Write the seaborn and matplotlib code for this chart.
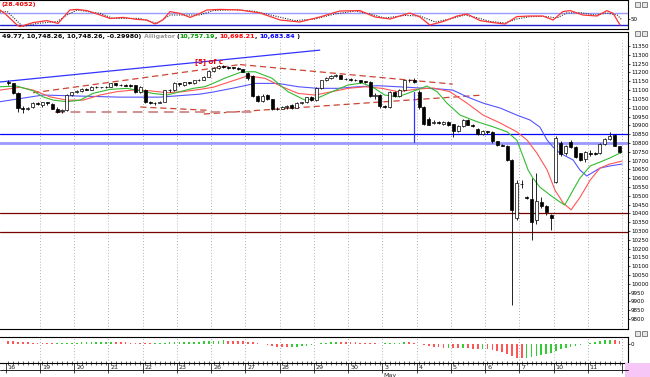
import numpy as np
import pandas as pd
import matplotlib
matplotlib.use('Agg')
import matplotlib.pyplot as plt
from matplotlib.offsetbox import TextArea, HPacker, AnchoredOffsetbox
from matplotlib.patches import Rectangle
from matplotlib.lines import Line2D
import seaborn as sns

sns.set_style("white")
plt.rcParams['font.family'] = ['DejaVu Sans']

# hourly candles, 16 Apr - 11 May (7 bars per day)
opens = [11145, 11138, 11085, 11000, 10990, 11005, 11025,
         11015, 11030, 11020, 10995, 10980, 10985, 11070,
         11090, 11095, 11105, 11102, 11118, 11115, 11116,
         11118, 11138, 11128, 11130, 11126, 11128, 11090,
         11100, 11030, 11025, 11028, 11035, 11098, 11100,
         11138, 11130, 11145, 11138, 11155, 11158, 11175,
         11210, 11228, 11235, 11230, 11228, 11226, 11218,
         11195, 11180, 11065, 11040, 11070, 11048, 10992,
         10995, 11002, 11015, 11000, 11025, 11030, 11058,
         11045, 11110, 11155, 11168, 11180, 11185, 11165,
         11162, 11158, 11156, 11148, 11145, 11065, 11070,
         11009, 11005, 11090, 11068, 11100, 11155, 11160,
         11090, 11005, 10935, 10915, 10918, 10905, 10920,
         10905, 10870, 10895, 10930, 10900, 10880, 10850,
         10868, 10860, 10810, 10790, 10785, 10705, 10375,
         10565, 10490, 10480, 10360, 10465, 10440, 10390,
         10580, 10800, 10740, 10805, 10775, 10740, 10710,
         10740, 10745, 10740, 10795, 10822, 10845, 10780]
highs = [11155, 11142, 11090, 11010, 11005, 11030, 11030,
         11035, 11035, 11025, 11005, 10995, 11075, 11092,
         11100, 11110, 11110, 11122, 11122, 11120, 11122,
         11142, 11142, 11135, 11133, 11132, 11130, 11122,
         11105, 11040, 11030, 11040, 11102, 11105, 11145,
         11142, 11148, 11148, 11160, 11162, 11180, 11215,
         11232, 11245, 11240, 11235, 11232, 11230, 11222,
         11200, 11185, 11070, 11075, 11075, 11050, 11002,
         11010, 11015, 11020, 11030, 11035, 11062, 11065,
         11115, 11160, 11175, 11185, 11190, 11188, 11170,
         11168, 11162, 11160, 11152, 11150, 11085, 11075,
         11015, 11095, 11095, 11105, 11160, 11162, 11170,
         11100, 11010, 10945, 10930, 10925, 10925, 10925,
         10910, 10900, 10935, 10935, 10905, 10885, 10875,
         10870, 10865, 10812, 10795, 10790, 10710, 10590,
         10590, 10500, 10600, 10630, 10490, 10445, 10395,
         10840, 10810, 10790, 10815, 10780, 10745, 10755,
         10760, 10750, 10800, 10830, 10862, 10850, 10785]
lows = [11130, 11080, 10975, 10970, 10985, 11000, 11015,
        11005, 11015, 10990, 10970, 10972, 10980, 11065,
        11085, 11090, 11098, 11100, 11110, 11112, 11112,
        11115, 11125, 11122, 11122, 11120, 11085, 11085,
        11025, 11020, 11015, 11025, 11030, 11092, 11095,
        11125, 11125, 11135, 11135, 11150, 11155, 11172,
        11205, 11220, 11225, 11222, 11220, 11212, 11200,
        11160, 11060, 11035, 11035, 11045, 10985, 10985,
        10990, 10995, 10995, 10998, 11020, 11028, 11040,
        11040, 11105, 11150, 11162, 11175, 11162, 11158,
        11150, 11150, 11142, 11140, 11060, 11050, 11000,
        10998, 11000, 11060, 11062, 11095, 11148, 11138,
        10990, 10900, 10900, 10905, 10910, 10900, 10895,
        10835, 10860, 10890, 10900, 10890, 10845, 10845,
        10850, 10800, 10785, 10780, 10700, 9880, 10360,
        10545, 10480, 10248, 10340, 10430, 10390, 10305,
        10570, 10725, 10730, 10770, 10715, 10700, 10690,
        10725, 10730, 10735, 10790, 10815, 10780, 10740]
closes = [11138, 11085, 11000, 10990, 11000, 11025, 11020,
          11030, 11025, 10995, 10978, 10988, 11070, 11088,
          11095, 11105, 11102, 11118, 11115, 11116, 11118,
          11138, 11128, 11130, 11126, 11125, 11090, 11118,
          11030, 11025, 11028, 11035, 11098, 11100, 11138,
          11132, 11145, 11138, 11155, 11158, 11175, 11210,
          11228, 11235, 11230, 11228, 11226, 11218, 11205,
          11170, 11065, 11040, 11068, 11050, 10990, 10995,
          11002, 11010, 11000, 11025, 11030, 11058, 11045,
          11110, 11155, 11168, 11180, 11182, 11165, 11162,
          11158, 11156, 11148, 11146, 11065, 11070, 11009,
          11005, 11090, 11068, 11100, 11155, 11158, 11145,
          11005, 10905, 10902, 10918, 10915, 10920, 10900,
          10865, 10895, 10930, 10902, 10898, 10850, 10868,
          10860, 10810, 10790, 10785, 10705, 10420, 10570,
          10568, 10488, 10350, 10470, 10440, 10405, 10375,
          10830, 10735, 10780, 10775, 10720, 10705, 10750,
          10738, 10735, 10795, 10825, 10840, 10785, 10748]

# Alligator lines (bar position, price)
lips_x = [-1.7, 1.7, 5.1, 7.1, 9.2, 12.0, 14.7, 17.3, 20.8, 24.3, 27.0, 29.6, 32.5, 35.1, 37.8,
          40.2, 41.9, 44.3, 47.8, 50.5, 53.9, 57.2, 60.7, 63.3, 66.2, 69.5, 72.3, 74.4, 77.0, 79.7,
          82.6, 85.6, 87.7, 89.7, 92.4, 95.9, 99.1, 102.0, 104.0, 105.3, 106.3, 107.3, 108.7, 110.8,
          112.2, 113.8, 115.5, 116.9, 119.0, 121.0, 123.0, 125.5]
lips_y = [11119, 11123, 11096, 11062, 11043, 11034, 11043, 11081, 11104, 11110, 11096, 11081, 11072,
          11091, 11110, 11119, 11138, 11168, 11204, 11204, 11168, 11091, 11043, 11055, 11091, 11129,
          11140, 11119, 11072, 11062, 11091, 11123, 11091, 11026, 10958, 10920, 10892, 10863, 10816,
          10721, 10646, 10600, 10549, 10504, 10476, 10447, 10532, 10600, 10669, 10691, 10714, 10748]
teeth_x = [-1.7, 2.4, 5.1, 8.5, 12.0, 15.3, 18.8, 22.2, 25.5, 29.0, 32.5, 35.7, 39.2, 41.9, 44.3,
           49.0, 52.5, 56.0, 59.3, 62.7, 66.2, 69.5, 73.0, 76.4, 79.7, 83.8, 86.9, 90.3, 93.8, 97.1,
           100.6, 104.0, 106.1, 108.1, 110.2, 111.8, 113.5, 115.1, 116.9, 119.0, 121.0, 123.0, 125.5]
teeth_y = [11100, 11116, 11100, 11062, 11043, 11043, 11072, 11091, 11100, 11096, 11085, 11091, 11104,
           11116, 11138, 11181, 11167, 11119, 11081, 11072, 11091, 11110, 11119, 11110, 11091, 11106,
           11112, 11091, 11026, 10958, 10913, 10863, 10816, 10742, 10646, 10532, 10458, 10420, 10490,
           10589, 10657, 10680, 10697]
jaw_x = [-1.7, 7.1, 14.7, 22.9, 31.0, 39.2, 41.9, 45.8, 50.5, 55.2, 59.3, 63.3, 67.4, 71.5, 75.6,
         79.7, 84.2, 88.3, 90.9, 93.8, 97.1, 100.6, 104.0, 106.7, 108.7, 110.2, 111.4, 112.8, 115.5,
         116.9, 118.3, 121.0, 123.0, 125.5]
jaw_y = [11034, 11072, 11066, 11060, 11060, 11077, 11089, 11110, 11138, 11138, 11119, 11110, 11110,
         11119, 11125, 11119, 11112, 11106, 11100, 11062, 11026, 10998, 10958, 10930, 10890, 10816,
         10777, 10742, 10703, 10646, 10612, 10657, 10669, 10680]

# stochastic (top pane)
stoch_x = [-1.7, -0.7, 1.8, 2.4, 5.1, 7.9, 10.2, 12.6, 14.1, 16.1, 18.8, 20.8, 23.5, 26.3, 28.4,
           30.0, 31.6, 33.1, 35.1, 37.2, 39.2, 40.6, 43.3, 47.4, 51.5, 55.6, 59.6, 63.7, 67.8, 71.9,
           75.0, 78.1, 82.1, 84.2, 86.2, 88.9, 91.8, 93.8, 96.5, 99.1, 101.6, 104.0, 106.7, 109.3,
           111.4, 113.4, 114.9, 117.5, 120.4, 122.4, 123.7, 125.1]
stoch_k = [95, 78, 20, 12, 32, 42, 28, 95, 98, 92, 70, 53, 58, 48, 45, 25, 45, 87, 78, 58, 78, 95,
           98, 95, 80, 45, 35, 60, 90, 92, 60, 50, 80, 60, 20, 37, 65, 75, 42, 32, 25, 62, 65, 65,
           45, 87, 92, 70, 65, 92, 78, 20]
signal_x = [-1.7, -0.2, 3.0, 5.9, 10.0, 12.0, 14.1, 18.8, 21.4, 26.9, 30.4, 33.1, 36.6, 39.2, 41.9,
            46.4, 50.5, 54.5, 58.6, 62.7, 66.8, 70.9, 74.0, 77.0, 81.1, 84.2, 87.3, 90.3, 93.4, 96.1,
            98.5, 101.6, 104.0, 106.7, 109.8, 112.2, 114.2, 116.9, 120.0, 122.4, 124.5, 125.5]
signal_d = [85, 87, 12, 28, 37, 70, 95, 78, 53, 53, 28, 70, 70, 70, 92, 97, 88, 65, 42, 50, 75, 90,
            75, 55, 68, 65, 35, 50, 70, 55, 38, 30, 50, 62, 63, 55, 80, 82, 70, 80, 70, 45]

# oscillator histogram (bottom pane)
osc = [3.0, 2.6, 2.0, 1.5, 1.2, 1.0, 0.8,
       0.6, 0.5, 0.4, 0.5, 0.6, 0.7, 0.9,
       1.0, 1.1, 1.2, 1.3, 1.4, 1.5, 1.6,
       1.7, 1.6, 1.4, 1.2, 1.0, 0.8, 0.6,
       0.5, 0.4, 0.5, 0.6, 0.9, 1.2, 1.5,
       1.6, 1.7, 1.8, 1.9, 2.0, 2.2, 2.5,
       2.8, 3.0, 3.1, 3.0, 2.8, 2.6, 2.3,
       1.8, 1.2, 0.5, -0.5, -1.5, -2.5, -3.2,
       -3.6, -3.8, -3.6, -3.3, -2.8, -2.3, -1.6,
       -0.8, 0.2, 0.8, 1.2, 1.5, 1.4, 1.3,
       1.2, 1.1, 1.0, 0.9, 0.6, 0.3, -0.2,
       0.3, 0.6, 0.8, 1.0, 1.2, 1.1, 0.8,
       -0.5, -1.5, -2.5, -3.2, -3.8, -4.3, -4.2,
       -4.5, -4.8, -4.6, -4.9, -5.3, -5.6, -5.5,
       -5.8, -6.5, -7.5, -8.5, -10, -12.5, -14,
       -14.5, -14.2, -13.5, -12.8, -11.5, -10.5, -9,
       -7, -5.5, -4.2, -3.2, -2.3, -1.5, -0.8,
       0.5, 1.5, 2.5, 3.2, 3.8, 3.5, 3.0]

day_labels = ['16', '19', '20', '21', '22', '23', '26', '27', '28', '29', '30',
              '3', '4', '5', '6', '7', '10', '11', '12']
bars_per_day = 7

# drawn studies (bar, price) pairs
trend_up = ([-1.7, 63.7], [11146, 11327])
wedge_dashes = [([5.1, 47.4], [11085, 11245]),
                ([47.4, 90.9], [11245, 11134]),
                ([27.0, 41.0], [11004, 10985]),
                ([40.0, 97.1], [10964, 11072])]
pink_dash = ([9.6, 50.0], [10976, 10976])
vert_blue = ([83.0, 83.0], [11089, 10805])
h_blue, h_lav = 10850, 10800
h_red = [10400, 10292]

df = pd.DataFrame({'o': opens, 'h': highs, 'l': lows, 'c': closes})
df['i'] = np.arange(len(df))

W, H = 650, 377
fig = plt.figure(figsize=(6.5, 3.77), dpi=100)


def rect(x0, y0, x1, y1):
    return [x0 / W, 1 - y1 / H, (x1 - x0) / W, (y1 - y0) / H]


ax_top = fig.add_axes(rect(0, 0, 628, 29))
ax = fig.add_axes(rect(0, 32, 628, 329))
ax_bot = fig.add_axes(rect(0, 337, 628, 363))

xlim = (-1.68, 126.73)
bounds = [-0.5 + bars_per_day * k for k in range(len(day_labels))]

for a in (ax_top, ax, ax_bot):
    a.set_xlim(*xlim)
    a.set_xticks([])
    for s in a.spines.values():
        s.set_color('black')
        s.set_linewidth(0.8)
    a.spines['left'].set_visible(False)
    a.yaxis.tick_right()
    a.tick_params(axis='y', labelsize=4.0, length=1.5, pad=0.6, width=0.5, colors='black')

# ---- main pane
ax.set_ylim(9743, 11430)
for b in bounds[1:]:
    ax.axvline(b, ymax=0.972, color='#999999', lw=0.6, ls=(0, (1, 2.5)))

ax.axhline(h_blue, color='#0000ff', lw=0.9)
ax.axhline(h_lav, color='#9999ff', lw=2.0)
for p in h_red:
    ax.axhline(p, color='#7a0000', lw=0.9)

ax.plot(*trend_up, color='#3333ff', lw=0.9)
for xs, ys in wedge_dashes:
    ax.plot(xs, ys, color='#cc4433', lw=0.9, ls=(0, (5, 3)))
ax.plot(*pink_dash, color='#d09090', lw=1.4, ls=(0, (5, 3)))
ax.plot(*vert_blue, color='#3333ff', lw=0.9)

sns.lineplot(x=jaw_x, y=jaw_y, color='#5555ff', lw=0.8, ax=ax)
sns.lineplot(x=teeth_x, y=teeth_y, color='#ff5555', lw=0.8, ax=ax)
sns.lineplot(x=lips_x, y=lips_y, color='#33bb33', lw=0.8, ax=ax)

up = df['c'] >= df['o']
ax.vlines(df['i'], df['l'], df['h'], color='black', lw=0.6, zorder=4)
body_lo = np.minimum(df['o'], df['c'])
body_h = np.maximum((df['c'] - df['o']).abs(), 3)
ax.bar(df['i'], body_h, bottom=body_lo, width=0.62,
       color=np.where(up, 'white', 'black'), edgecolor='black', linewidth=0.5, zorder=5)

ax.text(41, 11262, '[5] of c', color='#ee0000', fontsize=5, fontweight='bold',
        ha='center', va='center')

yt = np.arange(9800, 11351, 50)
ax.set_yticks(yt)
ax.set_yticklabels([str(v) for v in yt])
ax.set_ylabel('')

parts = [('49.77, 10,748.26, 10,748.26, -0.29980) ', 'black'),
         ('Alligator ', '#999999'), ('(', 'black'), ('10,757.19', '#009900'),
         (', ', 'black'), ('10,698.21', '#ff0000'), (', ', 'black'),
         ('10,683.84', '#0000ff'), (' )', 'black')]
boxes = [TextArea(t, textprops=dict(color=c, fontsize=4.6, fontweight='bold')) for t, c in parts]
hdr = AnchoredOffsetbox(loc='upper left', child=HPacker(children=boxes, pad=0, sep=0),
                        frameon=False, borderpad=0.15, pad=0)
ax.add_artist(hdr)

# ---- top pane
ax_top.set_ylim(0, 145)
ax_top.axhline(80, color='#9999ff', lw=1.0)
ax_top.axhline(20, color='#2222cc', lw=1.0)
sns.lineplot(x=signal_x, y=signal_d, color='#333333', lw=0.8, ls=(0, (1, 1.2)), ax=ax_top)
sns.lineplot(x=stoch_x, y=stoch_k, color='#ff3333', lw=0.9, ax=ax_top)
ax_top.set_yticks([50])
ax_top.set_yticklabels(['50'])
ax_top.text(0.002, 0.93, '(28.4052)', transform=ax_top.transAxes, color='#ee0000',
            fontsize=4.6, fontweight='bold', ha='left', va='top')

# ---- bottom pane
ax_bot.set_ylim(-19.5, 6.5)
for b in bounds[1:]:
    ax_bot.axvline(b, ymin=0.1, ymax=0.95, color='#999999', lw=0.6, ls=(0, (1, 2.5)))
osc_col = ['#ff5555'] + ['#33cc33' if osc[i] > osc[i - 1] else '#ff5555' for i in range(1, len(osc))]
ax_bot.bar(df['i'], osc, width=0.35, color=osc_col, linewidth=0)
ax_bot.set_yticks([0])
ax_bot.set_yticklabels(['0'])

# date axis under the bottom pane
ax_bot.set_xticks(df['i'], minor=True)
ax_bot.tick_params(axis='x', which='minor', direction='inout', length=3, width=0.5, bottom=True)
ax_bot.set_xticks(bounds)
ax_bot.set_xticklabels([])
ax_bot.tick_params(axis='x', which='major', direction='out', length=7, width=0.6, bottom=True)
for b, lab in zip(bounds, day_labels):
    ax_bot.text(b + 0.4, -0.17, lab, transform=ax_bot.get_xaxis_transform(),
                fontsize=4.6, ha='left', va='center', clip_on=False)
ax_bot.text(bounds[11] + 0.2, -0.48, 'May', transform=ax_bot.get_xaxis_transform(),
            fontsize=4.6, ha='left', va='center', clip_on=False)

fig.add_artist(Line2D([0, 628 / W], [1 - 370 / H, 1 - 370 / H], color='black', lw=0.6))
fig.add_artist(Rectangle((625 / W, 0), 25 / W, 14 / H, color='#f6c6f6', lw=0))

# small pane buttons in the right margin
for yb in (2, 31, 331):
    for xb in (635, 642):
        fig.add_artist(Rectangle((xb / W, 1 - (yb + 5) / H), 5 / W, 5 / H,
                                 facecolor='#e6e6e6', edgecolor='#555555', lw=0.5))

fig.savefig('out.png', dpi=100)
